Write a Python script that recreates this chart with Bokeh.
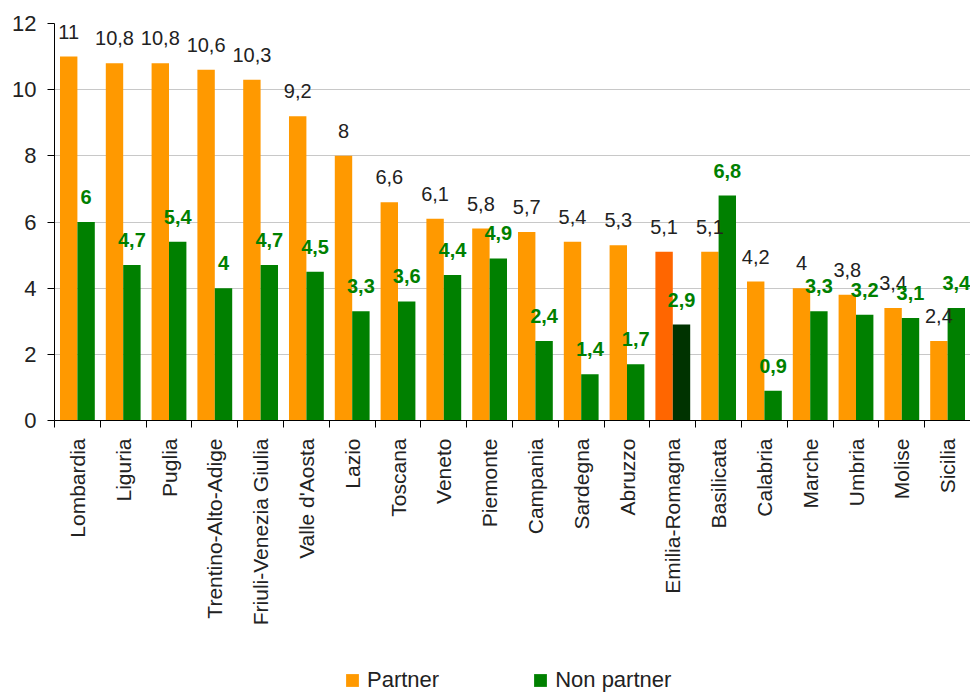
import numpy as np
from bokeh.plotting import figure
from bokeh.layouts import column
from bokeh.models import (ColumnDataSource, FixedTicker, Legend, LegendItem,
                          Range1d, LabelSet)
from bokeh.core.properties import value
from bokeh.embed import file_html
from bokeh.resources import INLINE

regions = ["Lombardia", "Liguria", "Puglia", "Trentino-Alto-Adige",
           "Friuli-Venezia Giulia", "Valle d'Aosta", "Lazio", "Toscana",
           "Veneto", "Piemonte", "Campania", "Sardegna", "Abruzzo",
           "Emilia-Romagna", "Basilicata", "Calabria", "Marche", "Umbria",
           "Molise", "Sicilia"]
partner = [11, 10.8, 10.8, 10.6, 10.3, 9.2, 8, 6.6, 6.1, 5.8, 5.7, 5.4, 5.3,
           5.1, 5.1, 4.2, 4, 3.8, 3.4, 2.4]
non_partner = [6, 4.7, 5.4, 4, 4.7, 4.5, 3.3, 3.6, 4.4, 4.9, 2.4, 1.4, 1.7,
               2.9, 6.8, 0.9, 3.3, 3.2, 3.1, 3.4]
series_names = ["Partner", "Non partner"]
highlight = "Emilia-Romagna"
y_ticks = [0, 2, 4, 6, 8, 10, 12]

ORANGE, ORANGE_HL = "#FF9900", "#FF6600"
GREEN, GREEN_HL = "#008000", "#003300"
FONT = "Liberation Sans"

n = len(regions)
idx = np.arange(n)
centers = idx + 0.5
off, bw = 0.19, 0.38


def fmt(v):
    return ("%g" % v).replace(".", ",")


src = ColumnDataSource(dict(
    xp=centers - off, xn=centers + off,
    partner=partner, non_partner=non_partner,
    lp=[fmt(v) for v in partner], ln=[fmt(v) for v in non_partner],
    cp=[ORANGE_HL if r == highlight else ORANGE for r in regions],
    cn=[GREEN_HL if r == highlight else GREEN for r in regions],
))

p = figure(width=970, height=660, output_backend="svg", toolbar_location=None,
           x_range=Range1d(0, n), y_range=Range1d(0, 12),
           min_border_left=54, min_border_right=0, min_border_top=23,
           min_border_bottom=240)
p.outline_line_color = None
p.xgrid.grid_line_color = None
p.ygrid.grid_line_color = "#c8c8c8"
p.ygrid.grid_line_width = 1

p.vbar(x="xp", top="partner", width=bw, source=src, fill_color="cp",
       line_color=None)
p.vbar(x="xn", top="non_partner", width=bw, source=src, fill_color="cn",
       line_color=None)

p.add_layout(LabelSet(x="xp", y="partner", text="lp", source=src,
                      y_offset=18, text_align="center",
                      text_baseline="alphabetic", text_font=value(FONT),
                      text_font_size="20px", text_color="#222222"))
p.add_layout(LabelSet(x="xn", y="non_partner", text="ln", source=src,
                      y_offset=18, text_align="center",
                      text_baseline="alphabetic", text_font=value(FONT),
                      text_font_size="20px", text_font_style="bold",
                      text_color=GREEN))

xa = p.xaxis[0]
xa.ticker = FixedTicker(ticks=list(centers), minor_ticks=list(range(n + 1)))
xa.major_label_overrides = {float(c): r for c, r in zip(centers, regions)}
xa.major_tick_out = 0
xa.major_tick_in = 0
xa.minor_tick_out = 7
xa.minor_tick_in = 0
xa.minor_tick_line_color = "#000000"
xa.axis_line_color = "#000000"
xa.major_label_orientation = np.pi / 2
xa.major_label_standoff = 11
xa.major_label_text_font = FONT
xa.major_label_text_font_size = "21px"
xa.major_label_text_color = "#222222"

ya = p.yaxis[0]
ya.ticker = FixedTicker(ticks=y_ticks)
ya.minor_tick_line_color = None
ya.major_tick_out = 7
ya.major_tick_in = 0
ya.axis_line_color = "#000000"
ya.major_tick_line_color = "#000000"
ya.major_label_text_font = FONT
ya.major_label_text_font_size = "22px"
ya.major_label_text_color = "#222222"
ya.major_label_standoff = 11

# legend strip
lg = figure(width=970, height=33, output_backend="svg", toolbar_location=None,
            x_range=Range1d(0, 1), y_range=Range1d(0, 1),
            x_axis_location=None, y_axis_location=None, min_border=0)
lg.outline_line_color = None
lg.xgrid.grid_line_color = None
lg.ygrid.grid_line_color = None
# off-range proxies, used only for the legend swatches
d1 = lg.quad(left=[-3], right=[-2], top=[-2], bottom=[-3], fill_color=ORANGE,
             line_color=None)
d2 = lg.quad(left=[-3], right=[-2], top=[-2], bottom=[-3], fill_color=GREEN,
             line_color=None)
legend = Legend(items=[LegendItem(label=series_names[0], renderers=[d1]),
                       LegendItem(label=series_names[1], renderers=[d2])],
                orientation="horizontal", location=(290, 0),
                glyph_width=16, glyph_height=16, spacing=93, padding=0,
                margin=0, label_standoff=7, border_line_color=None,
                background_fill_alpha=0, label_text_font=FONT,
                label_text_font_size="22px", label_text_color="#222222")
lg.add_layout(legend)

layout = column(p, lg, spacing=0)
open("out.html", "w").write(file_html(layout, INLINE))
